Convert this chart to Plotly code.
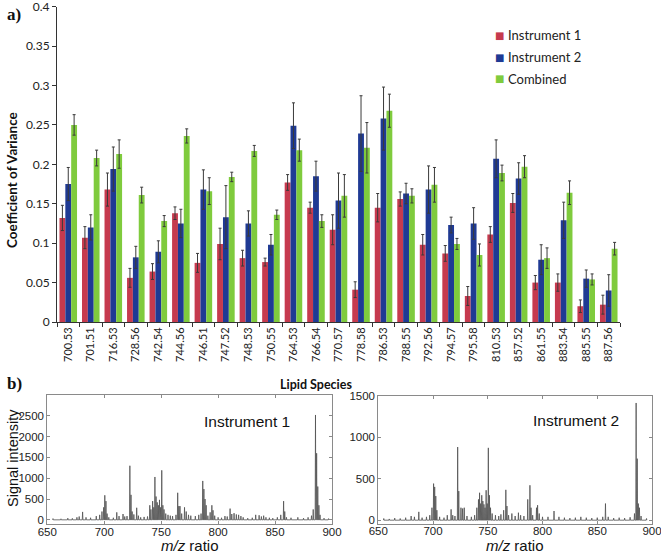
import plotly.graph_objects as go

# ---------------- data: panel a ----------------
species = ["700.53", "701.51", "716.53", "728.56", "742.54", "744.56", "746.51", "747.52",
           "748.53", "750.55", "764.53", "766.54", "770.57", "778.58", "786.53", "788.55",
           "792.56", "794.57", "795.58", "810.53", "857.52", "861.55", "883.54", "885.55", "887.56"]
inst1 = [0.132, 0.107, 0.168, 0.056, 0.064, 0.138, 0.075, 0.099, 0.081, 0.076, 0.177, 0.145,
         0.117, 0.041, 0.145, 0.156, 0.098, 0.087, 0.033, 0.111, 0.151, 0.050, 0.050, 0.020, 0.022]
inst1_err = [0.016, 0.014, 0.021, 0.012, 0.010, 0.008, 0.012, 0.020, 0.010, 0.005, 0.010, 0.007,
             0.019, 0.010, 0.018, 0.009, 0.013, 0.010, 0.012, 0.010, 0.012, 0.009, 0.011, 0.008, 0.012]
inst2 = [0.175, 0.120, 0.194, 0.082, 0.089, 0.125, 0.168, 0.133, 0.125, 0.098, 0.249, 0.185,
         0.154, 0.239, 0.258, 0.163, 0.168, 0.123, 0.125, 0.207, 0.182, 0.079, 0.129, 0.055, 0.040]
inst2_err = [0.021, 0.016, 0.028, 0.014, 0.014, 0.018, 0.025, 0.040, 0.016, 0.013, 0.029, 0.019,
             0.035, 0.048, 0.040, 0.013, 0.030, 0.010, 0.020, 0.024, 0.020, 0.019, 0.023, 0.011, 0.020]
combined = [0.250, 0.208, 0.213, 0.161, 0.128, 0.236, 0.166, 0.184, 0.217, 0.136, 0.218, 0.128,
            0.160, 0.221, 0.268, 0.160, 0.174, 0.099, 0.085, 0.189, 0.197, 0.081, 0.164, 0.054, 0.093]
combined_err = [0.013, 0.010, 0.018, 0.010, 0.007, 0.009, 0.017, 0.006, 0.007, 0.006, 0.014, 0.008,
                0.027, 0.032, 0.021, 0.009, 0.022, 0.007, 0.014, 0.010, 0.014, 0.013, 0.015, 0.007, 0.008]
y_ticks = [0, 0.05, 0.1, 0.15, 0.2, 0.25, 0.3, 0.35, 0.4]
y_ticklabels = ["0", "0.05", "0.1", "0.15", "0.2", "0.25", "0.3", "0.35", "0.4"]

# ---------------- data: panel b (peak m/z and intensity) ----------------
inst1_mz = [655, 662, 668, 672, 676, 678, 681, 684, 688, 693, 696, 698, 699.5, 700.5, 701.5, 702.5,
            704, 708, 711, 713, 716.5, 718, 720, 722.5, 723.5, 724.5, 726, 728.5, 730, 732, 735,
            738, 740, 741, 742.5, 743.5, 744.5, 745.5, 746.5, 747.5, 748.5, 749.5, 750.5, 751.5,
            752.5, 754, 756, 758, 760, 763, 764.5, 765.5, 766.5, 768, 770.5, 772, 774, 776, 780,
            783, 785, 786.5, 787.5, 788.5, 789.5, 791, 793, 794.5, 795.5, 797, 800, 803, 806, 808,
            810.5, 812, 814, 816, 818, 820, 822, 826, 830, 833, 836, 838, 840, 842, 845, 848, 852,
            855, 857.5, 858.5, 860, 864, 870, 875, 879, 882, 883.5, 885.5, 886.5, 887.5, 888.5,
            889.5, 893, 897]
inst1_int = [30, 25, 40, 35, 60, 80, 190, 60, 50, 90, 120, 200, 300, 590, 450, 150,
             60, 50, 180, 90, 140, 80, 90, 1300, 600, 200, 130, 290, 100, 60, 70,
             80, 350, 250, 450, 300, 1030, 560, 420, 350, 480, 300, 1190, 350,
             250, 150, 120, 100, 90, 120, 650, 330, 330, 150, 300, 200, 120, 100, 90,
             120, 150, 935, 740, 500, 350, 100, 180, 350, 230, 100, 60, 50, 90, 80,
             270, 140, 160, 130, 120, 90, 60, 40, 50, 120, 110, 80, 100, 60, 50, 40, 60,
             120, 450, 200, 60, 50, 60, 40, 60, 100, 250, 2520, 1600, 800, 350,
             120, 40, 30]
inst2_mz = [655, 660, 665, 670, 675, 680, 683, 687, 690, 694, 697, 699, 700.5, 701.5, 702.5, 703.5,
            706, 710, 713, 716.5, 718, 720, 722.5, 723.5, 725.5, 727, 728.5, 731, 735, 738, 740,
            741.5, 742.5, 743.5, 744.5, 745.5, 746.5, 747.5, 748.5, 749.5, 750.5, 751.5, 752.5,
            754, 757, 760, 762, 764.5, 766.5, 767.5, 769, 772, 775, 778, 780, 783, 786.5, 788.5,
            789.5, 791, 794.5, 795.5, 797, 800, 805, 810.5, 815, 820, 825, 830, 835, 840, 845,
            850, 855, 857.5, 860, 865, 870, 875, 880, 884, 885.5, 886.5, 887.5, 888.5, 890, 895]
inst2_int = [20, 15, 25, 20, 30, 50, 40, 100, 30, 40, 60, 150, 440, 400, 290, 120,
             40, 30, 60, 130, 60, 50, 880, 350, 150, 140, 150, 50, 40, 60, 150,
             250, 330, 200, 300, 230, 190, 150, 360, 200, 870, 300, 150,
             80, 60, 50, 70, 120, 365, 170, 60, 80, 50, 90, 60, 50, 250, 420,
             150, 60, 150, 180, 80, 40, 40, 110, 40, 30, 25, 30, 40, 30, 25,
             30, 40, 200, 40, 25, 30, 25, 35, 80, 1410, 740, 200, 150, 50, 20]
mz_ticks = [650, 700, 750, 800, 850, 900]
inst1_yticks = [0, 500, 1000, 1500, 2000, 2500]
inst2_yticks = [0, 500, 1000, 1500]

series_names = ["Instrument 1", "Instrument 2", "Combined"]
RED, BLUE, GREEN = "#C63A4E", "#1F3A94", "#7FCB3D"
ERR = "#3a3a3a"
FONT = "Lato"
W, H = 661, 553


def px_x(p):
    return p / W


def px_y(p):
    return 1 - p / H


def profile(mz, inten, half=0.3):
    xs, ys = [], []
    for m, v in zip(mz, inten):
        xs += [m - half, m, m + half]
        ys += [0, v, 0]
    return xs, ys


fig = go.Figure()
colors = [RED, BLUE, GREEN]
for name, vals, errs, col in zip(series_names, [inst1, inst2, combined],
                                 [inst1_err, inst2_err, combined_err], colors):
    fig.add_trace(go.Bar(x=species, y=vals, name=name, marker_color=col, marker_line_width=0,
                         error_y=dict(type="data", array=errs, color=ERR, thickness=1, width=1.5),
                         xaxis="x", yaxis="y", showlegend=False))

x1, y1 = profile(inst1_mz, inst1_int)
x2, y2 = profile(inst2_mz, inst2_int)
fig.add_trace(go.Scatter(x=x1, y=y1, mode="lines", line=dict(color="#505050", width=0.8),
                         showlegend=False, xaxis="x2", yaxis="y2", hoverinfo="skip"))
fig.add_trace(go.Scatter(x=x2, y=y2, mode="lines", line=dict(color="#505050", width=0.8),
                         showlegend=False, xaxis="x3", yaxis="y3", hoverinfo="skip"))

spec_axis = dict(showline=True, linecolor="#8a8a8a", linewidth=1, mirror="ticks", ticks="inside",
                 ticklen=3, tickcolor="#8a8a8a", showgrid=False, zeroline=False, automargin=False,
                 ticklabeloverflow="allow",
                 tickfont=dict(family="Liberation Sans", size=11.5, color="#222"))

fig.update_layout(
    width=W, height=H, margin=dict(l=0, r=0, t=0, b=0, autoexpand=False),
    paper_bgcolor="white", plot_bgcolor="white",
    barmode="group", bargap=0.22, bargroupgap=0,
    font=dict(family=FONT, color="#222"),
    showlegend=False,
    xaxis=dict(domain=[px_x(57), px_x(620)], anchor="y", type="category", showline=True,
               linecolor="#333", linewidth=1, ticks="outside", tickson="boundaries", ticklen=4,
               tickcolor="#333", tickangle=-90, tickfont=dict(family=FONT, size=11, color="#222"),
               showgrid=False, automargin=False),
    yaxis=dict(domain=[px_y(322), px_y(6.5)], anchor="x", range=[0, 0.4002], tickvals=y_ticks,
               ticktext=y_ticklabels, showline=True, linecolor="#333", linewidth=1, ticks="outside",
               ticklen=4, tickcolor="#333", tickfont=dict(family=FONT, size=12, color="#222"),
               showgrid=False, zeroline=False, automargin=False, ticklabeloverflow="allow"),
    xaxis2=dict(domain=[px_x(47.3), px_x(332)], anchor="y2", range=[650, 900], tickvals=mz_ticks,
                ticklabelstandoff=-3, **spec_axis),
    yaxis2=dict(domain=[px_y(524), px_y(395)], anchor="x2", range=[-100, 3000], tickvals=inst1_yticks,
                **spec_axis),
    xaxis3=dict(domain=[px_x(378.3), px_x(652)], anchor="y3", range=[650, 900], tickvals=mz_ticks,
                ticklabelstandoff=-3, **spec_axis),
    yaxis3=dict(domain=[px_y(523.5), px_y(395.5)], anchor="x3", range=[-40, 1500], tickvals=inst2_yticks,
                **spec_axis),
)

ann = [
    dict(text="<b>a)</b>", x=px_x(5), y=px_y(14), xanchor="left", yanchor="middle",
         font=dict(family="Liberation Serif", size=17, color="#111")),
    dict(text="<b>b)</b>", x=px_x(5), y=px_y(383), xanchor="left", yanchor="middle",
         font=dict(family="Liberation Serif", size=17, color="#111")),
    dict(text="<b>Coefficient of Variance</b>", x=px_x(12), y=px_y(180), textangle=-90,
         xanchor="center", yanchor="middle", font=dict(family=FONT, size=13.5, color="#111")),
    dict(text="<b>Lipid Species</b>", x=px_x(316), y=px_y(384), xanchor="center", yanchor="middle",
         font=dict(family=FONT, size=12.5, color="#111")),
    dict(text="Signal intensity", x=px_x(13), y=px_y(458), textangle=-90, xanchor="center",
         yanchor="middle", font=dict(family="Liberation Sans", size=14.5, color="#111")),
    dict(text="Instrument 1", x=px_x(247), y=px_y(421), xanchor="center", yanchor="middle",
         font=dict(family="Liberation Sans", size=15.5, color="#111")),
    dict(text="Instrument 2", x=px_x(576), y=px_y(420), xanchor="center", yanchor="middle",
         font=dict(family="Liberation Sans", size=15.5, color="#111")),
    dict(text="<i>m/z</i> ratio", x=px_x(190), y=px_y(545.5), xanchor="center", yanchor="middle",
         font=dict(family="Liberation Sans", size=15, color="#111")),
    dict(text="<i>m/z</i> ratio", x=px_x(515), y=px_y(545.5), xanchor="center", yanchor="middle",
         font=dict(family="Liberation Sans", size=15, color="#111")),
]
# legend drawn as text: coloured square glyph + series name
for i, (name, col) in enumerate(zip(series_names, colors)):
    yc = 35 + 22 * i
    ann.append(dict(text="■", x=px_x(500), y=px_y(yc), xanchor="center", yanchor="middle",
                    font=dict(family="DejaVu Sans", size=10, color=col)))
    ann.append(dict(text=name, x=px_x(506), y=px_y(yc), xanchor="left", yanchor="middle",
                    font=dict(family=FONT, size=13, color="#222")))
for a in ann:
    a.update(xref="paper", yref="paper", showarrow=False)
fig.update_layout(annotations=ann)

fig.write_html("out.html", config={"displayModeBar": False},
               post_script="document.body.style.margin='0px';")
